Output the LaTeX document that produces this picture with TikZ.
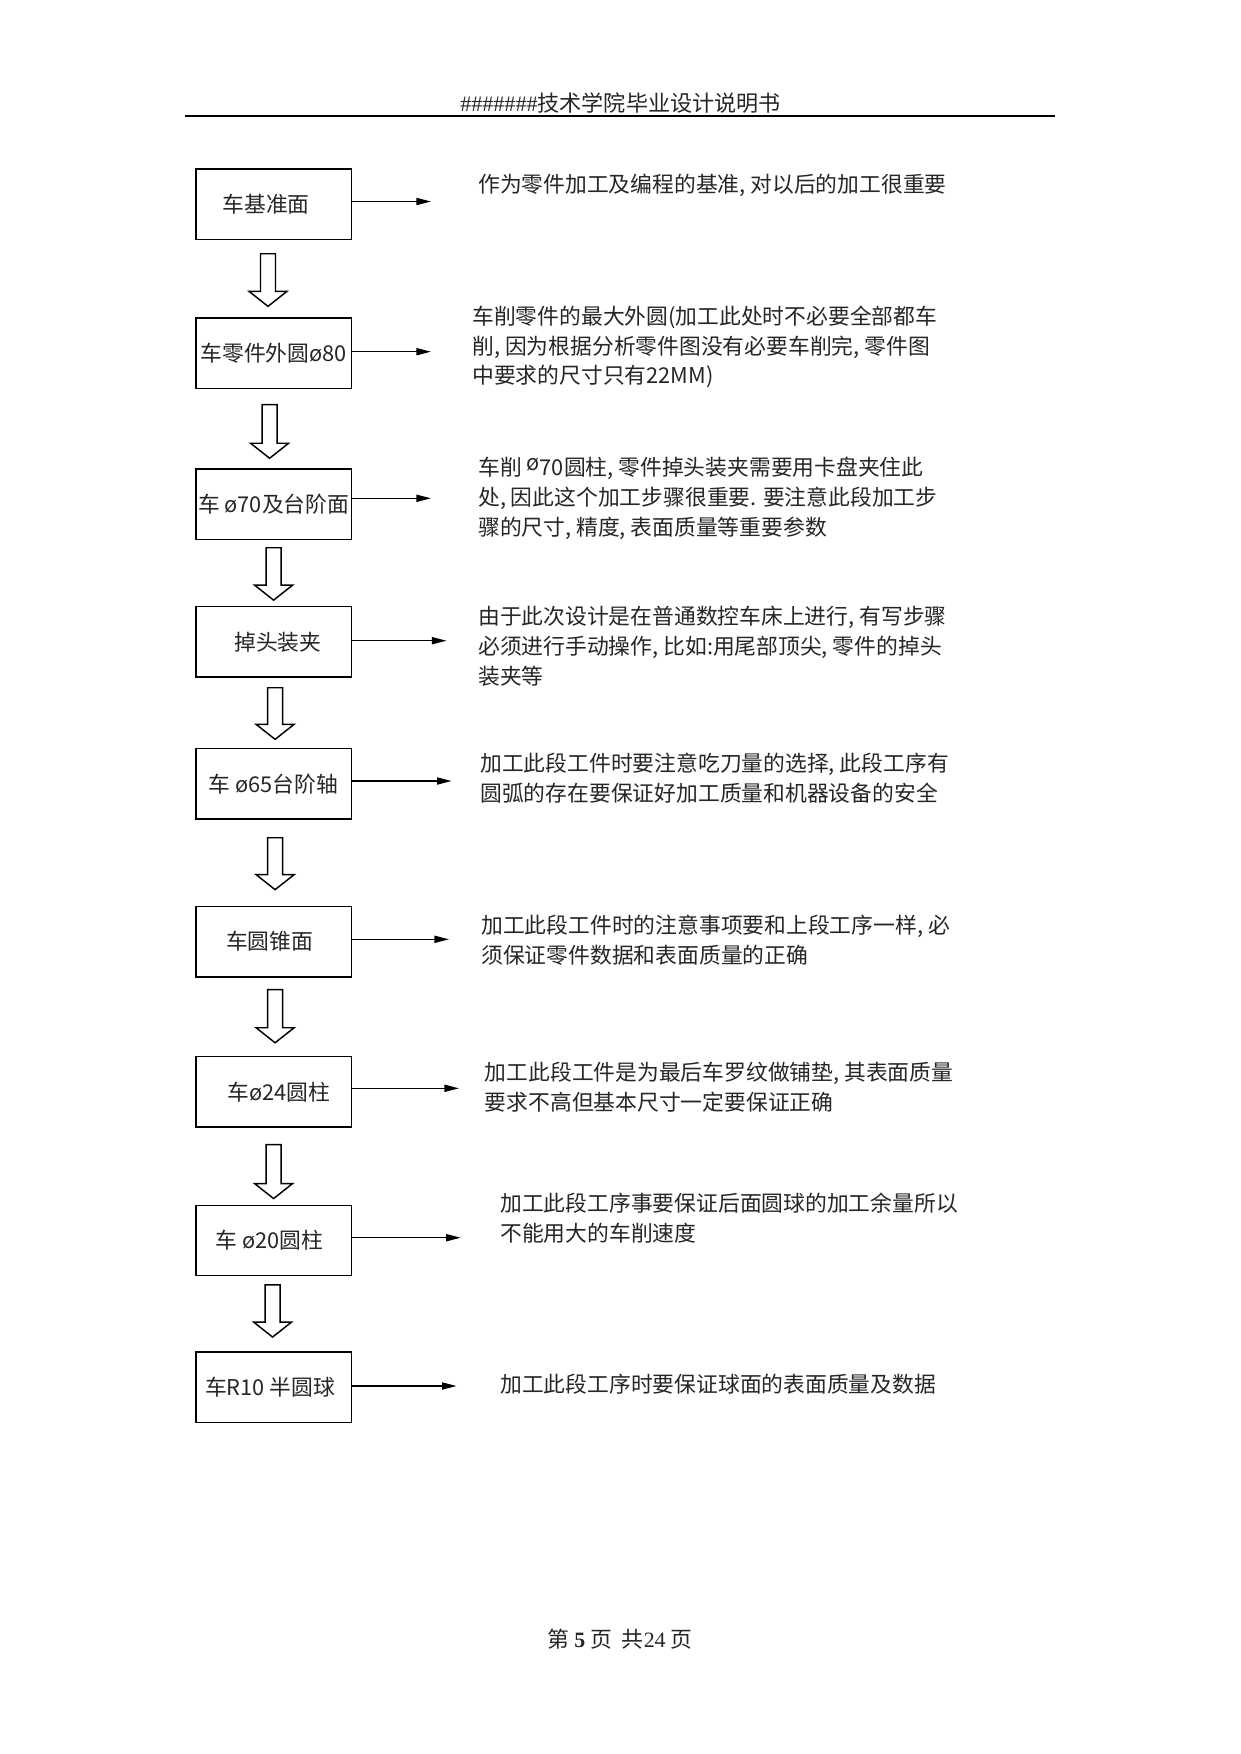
\documentclass[tikz,border=0pt]{standalone}
\usepackage{fontspec}
\setmainfont{Noto Sans CJK SC}
\newfontfamily\lat{Liberation Serif}
\usetikzlibrary{arrows.meta,calc}
\def\pxu{0.4797pt}
\newcommand\nudge[1]{\hspace*{#1}}
% hollow block arrow from box #1 to box #2; #3 = x offset, #4 = gap below #1, #5 = gap above #2 (px)
\newcommand\blockarrow[5]{%
  \draw[hollowarrow] let \p1=(#1.south), \p2=(#2.north) in
    ({\x1+(#3-7.5)*\pxu}, {\y1-#4*\pxu}) --
    ({\x1+(#3-7.5)*\pxu}, {\y2+(#5+15)*\pxu}) --
    ({\x1+(#3-19)*\pxu}, {\y2+(#5+15)*\pxu}) --
    ({\x1+#3*\pxu}, {\y2+#5*\pxu}) --
    ({\x1+(#3+19)*\pxu}, {\y2+(#5+15)*\pxu}) --
    ({\x1+(#3+7.5)*\pxu}, {\y2+(#5+15)*\pxu}) --
    ({\x1+(#3+7.5)*\pxu}, {\y1-#4*\pxu}) -- cycle;}
\begin{document}
\begin{tikzpicture}[x=0.4797pt,y=-0.4797pt,
  stepbox/.style={draw=black, text=black!85, line width=0.7pt, inner sep=0pt, minimum width=74.6pt,
    minimum height=33.8pt, font=\fontsize{10.45}{12.5}\selectfont},
  desc/.style={anchor=west, inner sep=0pt, align=left, text=black!85,
    font=\fontsize{10.45}{14.25}\selectfont},
  rarrow/.style={line width=0.7pt, -{Triangle[length=7pt,width=3.4pt]}},
  hollowarrow/.style={draw, line width=0.7pt, fill=white, line join=miter}]
\useasboundingbox[fill=white] (0,0) rectangle (1241,1754);

% header and footer
\node[inner sep=0pt, text=black!85, font=\fontsize{10.6}{13}\selectfont] (head) at (620.5,103)
  {{\lat \#\#\#\#\#\#\#}技术学院毕业设计说明书};
\coordinate (hl) at (184.6,116.4);
\coordinate (hr) at (1055,116.4);
\draw[line width=1pt] (hl) -- (hr);
\node[inner sep=0pt, text=black!85, font=\fontsize{10.5}{12}\selectfont] (foot) at (620,1639)
  {第 {\lat\bfseries 5} 页\ \ 共{\lat 24} 页};

% step boxes
\node[stepbox] (b1) at (273.6,204.3) {\nudge{-7.2pt}车基准面};
\node[stepbox] (b2) at (273.6,353.0) {车零件外圆ø80};
\node[stepbox] (b3) at (273.6,504.2) {车 ø70及台阶面};
\node[stepbox] (b4) at (273.6,641.8) {\nudge{4.2pt}掉头装夹};
\node[stepbox] (b5) at (273.6,783.8) {车 ø65台阶轴};
\node[stepbox] (b6) at (273.6,941.6) {\nudge{-3.8pt}车圆锥面};
\node[stepbox] (b7) at (273.6,1091.7) {\nudge{4.8pt}车ø24圆柱};
\node[stepbox] (b8) at (273.6,1240.5) {\nudge{-3.8pt}车 ø20圆柱};
\node[stepbox] (b9) at (273.6,1387.0) {\nudge{-3.4pt}车R10 半圆球};

% hollow down arrows
\blockarrow{b1}{b2}{-5.6}{13.5}{10.7}
\blockarrow{b2}{b3}{-4}{15.6}{10}
\blockarrow{b3}{b4}{0}{7.6}{5.7}
\blockarrow{b4}{b5}{1.5}{10}{8.5}
\blockarrow{b5}{b6}{1.5}{18}{16}
\blockarrow{b6}{b7}{1.5}{12}{13}
\blockarrow{b7}{b8}{0}{17}{6}
\blockarrow{b8}{b9}{-1}{8.3}{14}

% right arrows
\coordinate (e1) at (431,201.5);
\coordinate (e2) at (431,351.7);
\coordinate (e3) at (431,498.3);
\coordinate (e4) at (446.5,640.7);
\coordinate (e5) at (451.6,781);
\coordinate (e6) at (449,939.3);
\coordinate (e7) at (459,1088.3);
\coordinate (e8) at (460.7,1237.7);
\coordinate (e9) at (456.6,1386);
\foreach \i in {1,...,9} {\draw[rarrow] (b\i.east |- e\i) -- (e\i);}

% descriptions
\node[desc] (t1) at (477.8,185.8) {作为零件加工及编程的基准, 对以后的加工很重要};
\node[desc] (t2) at (472,346.9) {车削零件的最大外圆(加工此处时不必要全部都车\\削, 因为根据分析零件图没有必要车削完, 零件图\\中要求的尺寸只有22MM)};
\node[desc] (t3) at (477.8,498.5) {车削 \raisebox{2.5pt}{ø}70圆柱, 零件掉头装夹需要用卡盘夹住此\\处, 因此这个加工步骤很重要. 要注意此段加工步\\骤的尺寸, 精度, 表面质量等重要参数};
\node[desc] (t4) at (477.8,646.3) {由于此次设计是在普通数控车床上进行, 有写步骤\\必须进行手动操作, 比如:用尾部顶尖, 零件的掉头\\装夹等};
\node[desc] (t5) at (480,778.2) {加工此段工件时要注意吃刀量的选择, 此段工序有\\圆弧的存在要保证好加工质量和机器设备的安全};
\node[desc] (t6) at (481,940) {加工此段工件时的注意事项要和上段工序一样, 必\\须保证零件数据和表面质量的正确};
\node[desc] (t7) at (484.5,1087) {加工此段工件是为最后车罗纹做铺垫, 其表面质量\\要求不高但基本尺寸一定要保证正确};
\node[desc] (t8) at (500,1218.5) {加工此段工序事要保证后面圆球的加工余量所以\\不能用大的车削速度};
\node[desc] (t9) at (500,1384) {加工此段工序时要保证球面的表面质量及数据};
\end{tikzpicture}
\end{document}
